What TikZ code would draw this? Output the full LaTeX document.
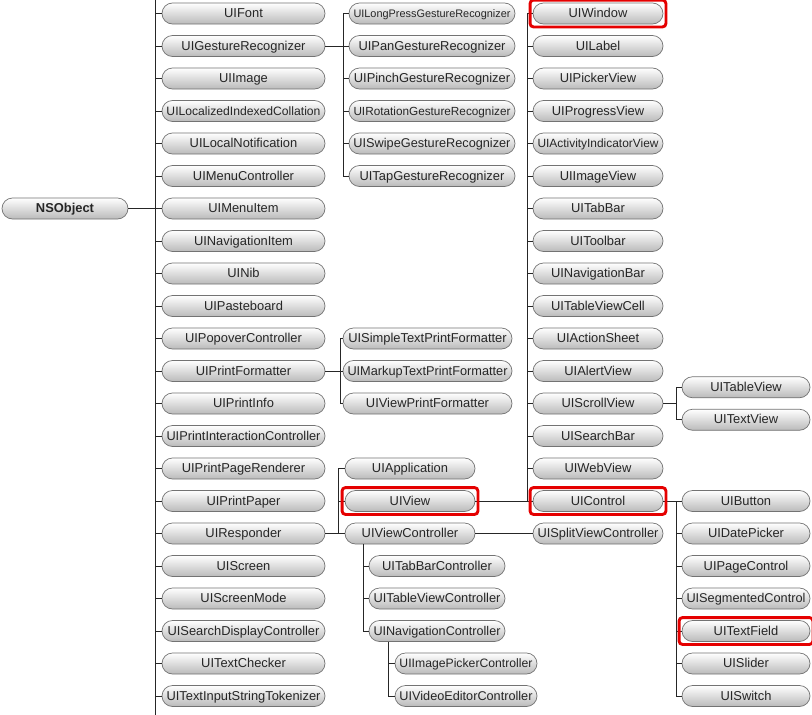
\documentclass[tikz,border=0pt]{standalone}
\usepackage{fontspec}
\setmainfont{Liberation Sans}
\usetikzlibrary{fit}
\newsavebox\fitbx
\newlength\fitw
\newcommand\fitto[2]{\setlength\fitw{\dimexpr #1\relax}\sbox\fitbx{#2}\ifdim\wd\fitbx>\fitw\relax\resizebox{\fitw}{!}{\usebox\fitbx}\else\usebox\fitbx\fi}
\newcommand\mkpill[5]{\node[pill, minimum width=#4pt] (#1) at (#2,{13.5+32.5*#3}) {\fitto{#4pt-9pt}{#5}};}
\tikzset{
  pill/.style={rounded corners=10.5pt, minimum height=21pt, inner sep=0pt,
    text height=9.5pt, text depth=1.5pt,
    top color=white, bottom color=black!27, draw=black!55, line width=0.7pt,
    font=\fontsize{12.9}{14}\selectfont, text=black!85},
  conn/.style={draw=black!85, line width=1pt},
  redbox/.style={draw=red!90!black, line width=2.9pt, rounded corners=3.5pt, inner sep=2.6pt}
}
\begin{document}
\begin{tikzpicture}[x=1pt,y=-1pt]
\useasboundingbox[fill=white] (0,0) rectangle (812,715);
% trunk coordinates
\coordinate (t1a) at (155,0);
\coordinate (t1b) at (155,715);
\coordinate (gt) at (343,0);
\coordinate (vt) at (527,0);
\coordinate (pt) at (340,0);
\coordinate (rt) at (338,0);
\coordinate (ct) at (363,0);
\coordinate (nt) at (388,0);
\coordinate (st) at (676,0);
% NSObject
\node[pill, minimum width=126pt, font=\fontsize{12.9}{14}\selectfont\bfseries] (ns) at (65,{13.5+32.5*6}) {NSObject};
% column 1
\mkpill{c0}{243.5}{0}{163}{UIFont}
\mkpill{c1}{243.5}{1}{163}{UIGestureRecognizer}
\mkpill{c2}{243.5}{2}{163}{UIImage}
\mkpill{c3}{243.5}{3}{163}{UILocalizedIndexedCollation}
\mkpill{c4}{243.5}{4}{163}{UILocalNotification}
\mkpill{c5}{243.5}{5}{163}{UIMenuController}
\mkpill{c6}{243.5}{6}{163}{UIMenuItem}
\mkpill{c7}{243.5}{7}{163}{UINavigationItem}
\mkpill{c8}{243.5}{8}{163}{UINib}
\mkpill{c9}{243.5}{9}{163}{UIPasteboard}
\mkpill{c10}{243.5}{10}{163}{UIPopoverController}
\mkpill{c11}{243.5}{11}{163}{UIPrintFormatter}
\mkpill{c12}{243.5}{12}{163}{UIPrintInfo}
\mkpill{c13}{243.5}{13}{163}{UIPrintInteractionController}
\mkpill{c14}{243.5}{14}{163}{UIPrintPageRenderer}
\mkpill{c15}{243.5}{15}{163}{UIPrintPaper}
\mkpill{c16}{243.5}{16}{163}{UIResponder}
\mkpill{c17}{243.5}{17}{163}{UIScreen}
\mkpill{c18}{243.5}{18}{163}{UIScreenMode}
\mkpill{c19}{243.5}{19}{163}{UISearchDisplayController}
\mkpill{c20}{243.5}{20}{163}{UITextChecker}
\mkpill{c21}{243.5}{21}{163}{UITextInputStringTokenizer}
% gesture recognizers
\mkpill{g0}{432}{0}{166}{UILongPressGestureRecognizer}
\mkpill{g1}{432}{1}{166}{UIPanGestureRecognizer}
\mkpill{g2}{432}{2}{166}{UIPinchGestureRecognizer}
\mkpill{g3}{432}{3}{166}{UIRotationGestureRecognizer}
\mkpill{g4}{432}{4}{166}{UISwipeGestureRecognizer}
\mkpill{g5}{432}{5}{166}{UITapGestureRecognizer}
% print formatters
\mkpill{p0}{427.5}{10}{169}{UISimpleTextPrintFormatter}
\mkpill{p1}{427.5}{11}{169}{UIMarkupTextPrintFormatter}
\mkpill{p2}{427.5}{12}{169}{UIViewPrintFormatter}
% responders
\mkpill{app}{410}{14}{130}{UIApplication}
\mkpill{view}{410}{15}{130}{UIView}
\mkpill{vc}{410}{16}{130}{UIViewController}
% view controllers
\mkpill{tbc}{437}{17}{136}{UITabBarController}
\mkpill{tvc}{437}{18}{136}{UITableViewController}
\mkpill{nav}{437}{19}{136}{UINavigationController}
\mkpill{ipc}{466}{20}{142}{UIImagePickerController}
\mkpill{vec}{466}{21}{142}{UIVideoEditorController}
% views
\mkpill{v0}{598}{0}{130}{UIWindow}
\mkpill{v1}{598}{1}{130}{UILabel}
\mkpill{v2}{598}{2}{130}{UIPickerView}
\mkpill{v3}{598}{3}{130}{UIProgressView}
\mkpill{v4}{598}{4}{130}{UIActivityIndicatorView}
\mkpill{v5}{598}{5}{130}{UIImageView}
\mkpill{v6}{598}{6}{130}{UITabBar}
\mkpill{v7}{598}{7}{130}{UIToolbar}
\mkpill{v8}{598}{8}{130}{UINavigationBar}
\mkpill{v9}{598}{9}{130}{UITableViewCell}
\mkpill{v10}{598}{10}{130}{UIActionSheet}
\mkpill{v11}{598}{11}{130}{UIAlertView}
\mkpill{v12}{598}{12}{130}{UIScrollView}
\mkpill{v13}{598}{13}{130}{UISearchBar}
\mkpill{v14}{598}{14}{130}{UIWebView}
\mkpill{v15}{598}{15}{130}{UIControl}
\mkpill{split}{598}{16}{130}{UISplitViewController}
% scroll views
\mkpill{s0}{746}{11.5}{128}{UITableView}
\mkpill{s1}{746}{12.5}{128}{UITextView}
% controls
\mkpill{k0}{746}{15}{128}{UIButton}
\mkpill{k1}{746}{16}{128}{UIDatePicker}
\mkpill{k2}{746}{17}{128}{UIPageControl}
\mkpill{k3}{746}{18}{128}{UISegmentedControl}
\mkpill{k4}{746}{19}{128}{UITextField}
\mkpill{k5}{746}{20}{128}{UISlider}
\mkpill{k6}{746}{21}{128}{UISwitch}
% connectors
\draw[conn] (t1a) -- (t1b);
\draw[conn] (ns.east) -- (ns.east -| t1a);
\foreach \i in {0,...,21} \draw[conn] (c\i.west -| t1a) -- (c\i.west);
\draw[conn] (c1.east) -- (c1.east -| gt);
\draw[conn] (g0.west -| gt) -- (g5.west -| gt);
\foreach \i in {0,...,5} \draw[conn] (g\i.west -| gt) -- (g\i.west);
\draw[conn] (c11.east) -- (c11.east -| pt);
\draw[conn] (p0.west -| pt) -- (p2.west -| pt);
\foreach \i in {0,1,2} \draw[conn] (p\i.west -| pt) -- (p\i.west);
\draw[conn] (c16.east) -- (vc.west);
\draw[conn] (app.west -| rt) -- (vc.west -| rt);
\foreach \n in {app,view} \draw[conn] (\n.west -| rt) -- (\n.west);
\draw[conn] (vc.south -| ct) -- (nav.west -| ct);
\foreach \n in {tbc,tvc,nav} \draw[conn] (\n.west -| ct) -- (\n.west);
\draw[conn] (nav.south -| nt) -- (vec.west -| nt);
\foreach \n in {ipc,vec} \draw[conn] (\n.west -| nt) -- (\n.west);
\draw[conn] (view.east) -- (v15.west);
\draw[conn] (v0.west -| vt) -- (v15.west -| vt);
\foreach \i in {0,...,14} \draw[conn] (v\i.west -| vt) -- (v\i.west);
\draw[conn] (vc.east) -- (split.west);
\draw[conn] (v12.east) -- (v12.east -| st);
\draw[conn] (s0.west -| st) -- (s1.west -| st);
\foreach \i in {0,1} \draw[conn] (s\i.west -| st) -- (s\i.west);
\draw[conn] (v15.east) -- (k0.west);
\draw[conn] (k0.west -| st) -- (k6.west -| st);
\foreach \i in {1,...,6} \draw[conn] (k\i.west -| st) -- (k\i.west);
% highlights
\foreach \n in {v0,view,v15,k4} \node[redbox, fit=(\n)] (r\n) {};
\end{tikzpicture}
\end{document}
